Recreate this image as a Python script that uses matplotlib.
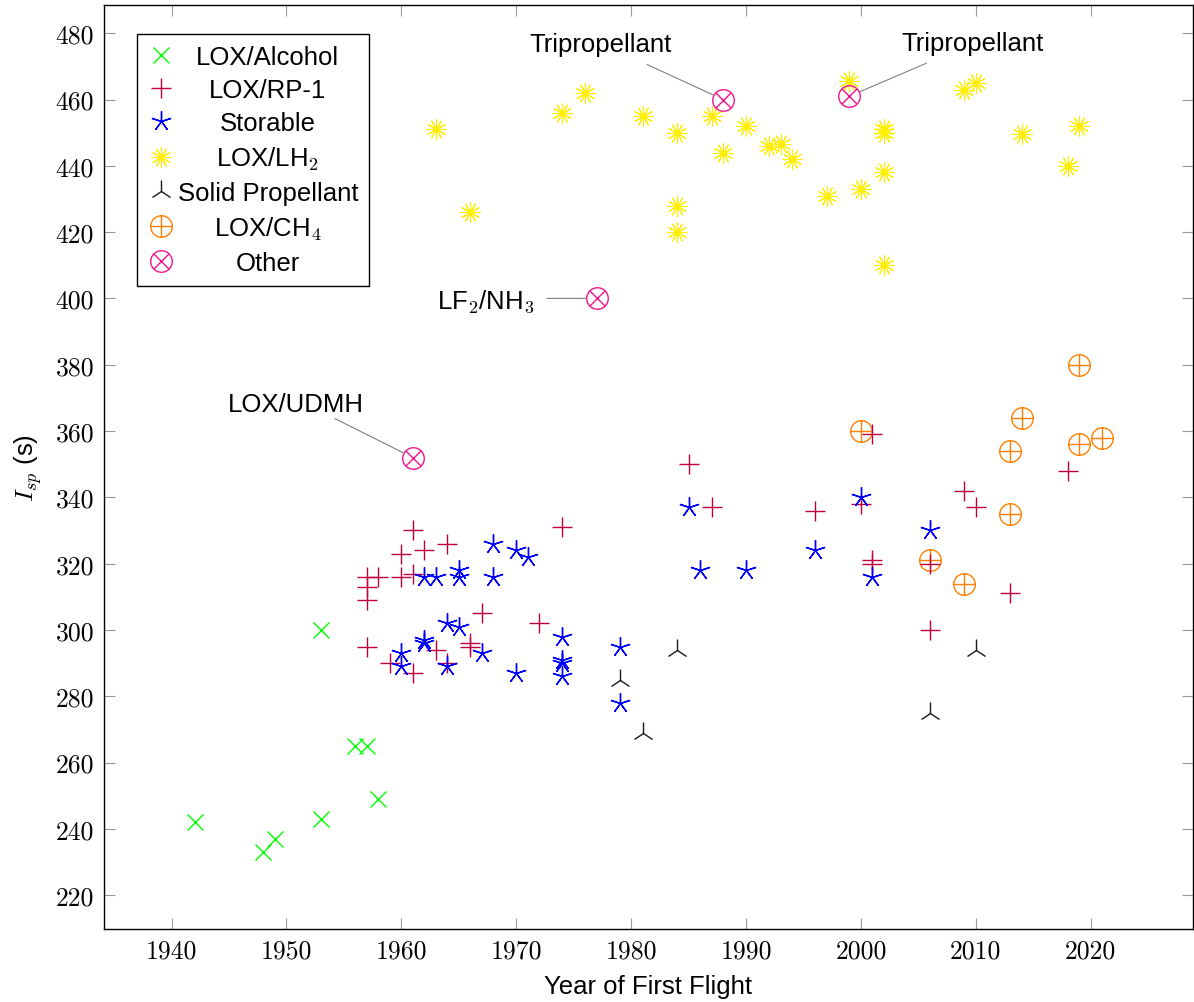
import matplotlib
matplotlib.use("Agg")
import matplotlib.pyplot as plt
from matplotlib.path import Path

plt.rcParams['font.family'] = ['Liberation Sans', 'DejaVu Sans']
plt.rcParams['mathtext.fontset'] = 'cm'

# engine data: year of first flight and specific impulse (s)
alcohol_year = [1942, 1948, 1949, 1953, 1953, 1956, 1957, 1958]
alcohol_isp = [242, 233, 237, 243, 300, 265, 265, 249]

rp1_year = [1957, 1958, 1960, 1961, 1957, 1957, 1961, 1964, 1960, 1962,
            1974, 1967, 1972, 1957, 1963, 1966, 1966, 1959, 1961, 1964,
            1985, 1987, 1996, 2000, 2001, 2009, 2010, 2018, 2001, 2001,
            2006, 2006, 2013]
rp1_isp = [316, 316, 316, 317, 313, 309, 330, 326, 323, 324,
           331, 305, 302, 295, 294, 296, 295, 290, 287, 290,
           350, 337, 336, 338, 359, 342, 337, 348, 321, 320,
           320, 300, 311]

storable_year = [1968, 1970, 1971, 1962, 1963, 1965, 1965, 1968, 1985, 1986,
                 1964, 1965, 1962, 1962, 1967, 1960, 1960, 1964, 1974, 1974,
                 1974, 1974, 1970, 1979, 1979, 1990, 2000, 1996, 2006, 2001]
storable_isp = [326, 324, 322, 316, 316, 318, 316, 316, 337, 318,
                302, 301, 297, 296, 293, 293, 289, 289, 298, 291,
                290, 286, 287, 295, 278, 318, 340, 324, 330, 316]

lh2_year = [1963, 1966, 1974, 1976, 1981, 1984, 1984, 1984, 1987, 1988,
            1990, 1992, 1993, 1994, 1997, 1999, 2000, 2002, 2002, 2002,
            2002, 2009, 2010, 2014, 2018, 2019]
lh2_isp = [451, 426, 456, 462, 455, 450, 428, 420, 455, 444,
           452, 446, 446.5, 442, 431, 465.5, 433, 451, 450, 438,
           410, 463, 465, 449.5, 440, 452]

solid_year = [1979, 1981, 1984, 2006, 2010]
solid_isp = [285, 269, 294, 275, 294]

ch4_year = [2000, 2006, 2009, 2013, 2013, 2014, 2019, 2019, 2021]
ch4_isp = [360, 321, 314, 354, 335, 364, 356, 380, 358]

other_year = [1961, 1977, 1988, 1999]
other_isp = [352, 400, 460, 461]

# circle with plus / circle with cross markers
circ = Path.unit_circle()
d = 0.7071
oplus = Path.make_compound_path(
    circ,
    Path([(-1, 0), (1, 0)], [Path.MOVETO, Path.LINETO]),
    Path([(0, -1), (0, 1)], [Path.MOVETO, Path.LINETO]))
otimes = Path.make_compound_path(
    circ,
    Path([(-d, -d), (d, d)], [Path.MOVETO, Path.LINETO]),
    Path([(-d, d), (d, -d)], [Path.MOVETO, Path.LINETO]))

fig = plt.figure(figsize=(11.94, 10.03), dpi=100)
ax = fig.add_axes([0.0869, 0.0728, 0.9123, 0.9212])

fs = 18.5
common = dict(linestyle='none', mfc='none')
ax.plot(alcohol_year, alcohol_isp, marker='x', ms=11.5, mew=1.0,
        color='#00ff00', label='LOX/Alcohol', **common)
ax.plot(rp1_year, rp1_isp, marker='+', ms=14.5, mew=1.0,
        color='#bf0040', label='LOX/RP-1', **common)
ax.plot(storable_year, storable_isp, marker=(5, 2, 0), ms=14.5, mew=1.0,
        color='#0000ff', label='Storable', **common)
ax.plot(lh2_year, lh2_isp, marker=(12, 2, 0), ms=14.5, mew=0.8,
        color='#ffee00', label='LOX/LH$_2$', **common)
ax.plot(solid_year, solid_isp, marker='2', ms=16, mew=1.0,
        color='#1a1a1a', label='Solid Propellant', **common)
ax.plot(ch4_year, ch4_isp, marker=oplus, ms=15.5, mew=1.0,
        color='#ff8000', label='LOX/CH$_4$', zorder=1.9, **common)
ax.plot(other_year, other_isp, marker=otimes, ms=15.5, mew=1.0,
        color='#f0148c', label='Other', **common)


def pin(label, xy, text_off, line_off, ha='center'):
    ax.annotate('', xy=xy, xytext=line_off, textcoords='offset pixels',
                arrowprops=dict(arrowstyle='-', color='#808080', lw=0.8,
                                shrinkA=0, shrinkB=8))
    ax.annotate(label, xy=xy, xytext=text_off, textcoords='offset pixels',
                ha=ha, va='baseline', fontsize=fs)


pin('Tripropellant', (1988, 460), (-123, 49), (-76, 35))
pin('Tripropellant', (1999, 461), (123, 46), (77, 33))
pin('LF$_2$/NH$_3$', (1977, 400), (-62, -9), (-50, 0), ha='right')
pin('LOX/UDMH', (1961, 352), (-117, 47), (-78, 39))

ax.set_xlim(1934.1, 2028.9)
ax.set_ylim(209.8, 488.5)
ax.set_xticks(range(1940, 2021, 10))
ax.set_yticks(range(220, 481, 20))
ax.tick_params(direction='in', length=8, width=0.8, color='#999999',
               top=True, right=True, labelsize=fs, pad=7,
               labelfontfamily='cmr10')
for s in ax.spines.values():
    s.set_linewidth(1.0)

ax.set_xlabel('Year of First Flight', fontsize=fs, labelpad=8)
ax.set_ylabel('$I_{sp}$ (s)', fontsize=fs, labelpad=8)

leg = ax.legend(loc='upper left', bbox_to_anchor=(0.0308, 0.9686),
                borderaxespad=0, fontsize=fs, fancybox=False,
                edgecolor='black', framealpha=1, handlelength=1.0,
                handletextpad=0.15, borderpad=0.42, labelspacing=0.36)
leg.get_frame().set_linewidth(1.0)

# centre the legend labels inside their column like pgfplots does
fig.canvas.draw()
texts = leg.get_texts()
widths = [t.get_window_extent().width for t in texts]
wmax = max(widths)
for t, w in zip(texts, widths):
    t.set_x((wmax - w) / 2)

fig.savefig('out.png', dpi=100)
